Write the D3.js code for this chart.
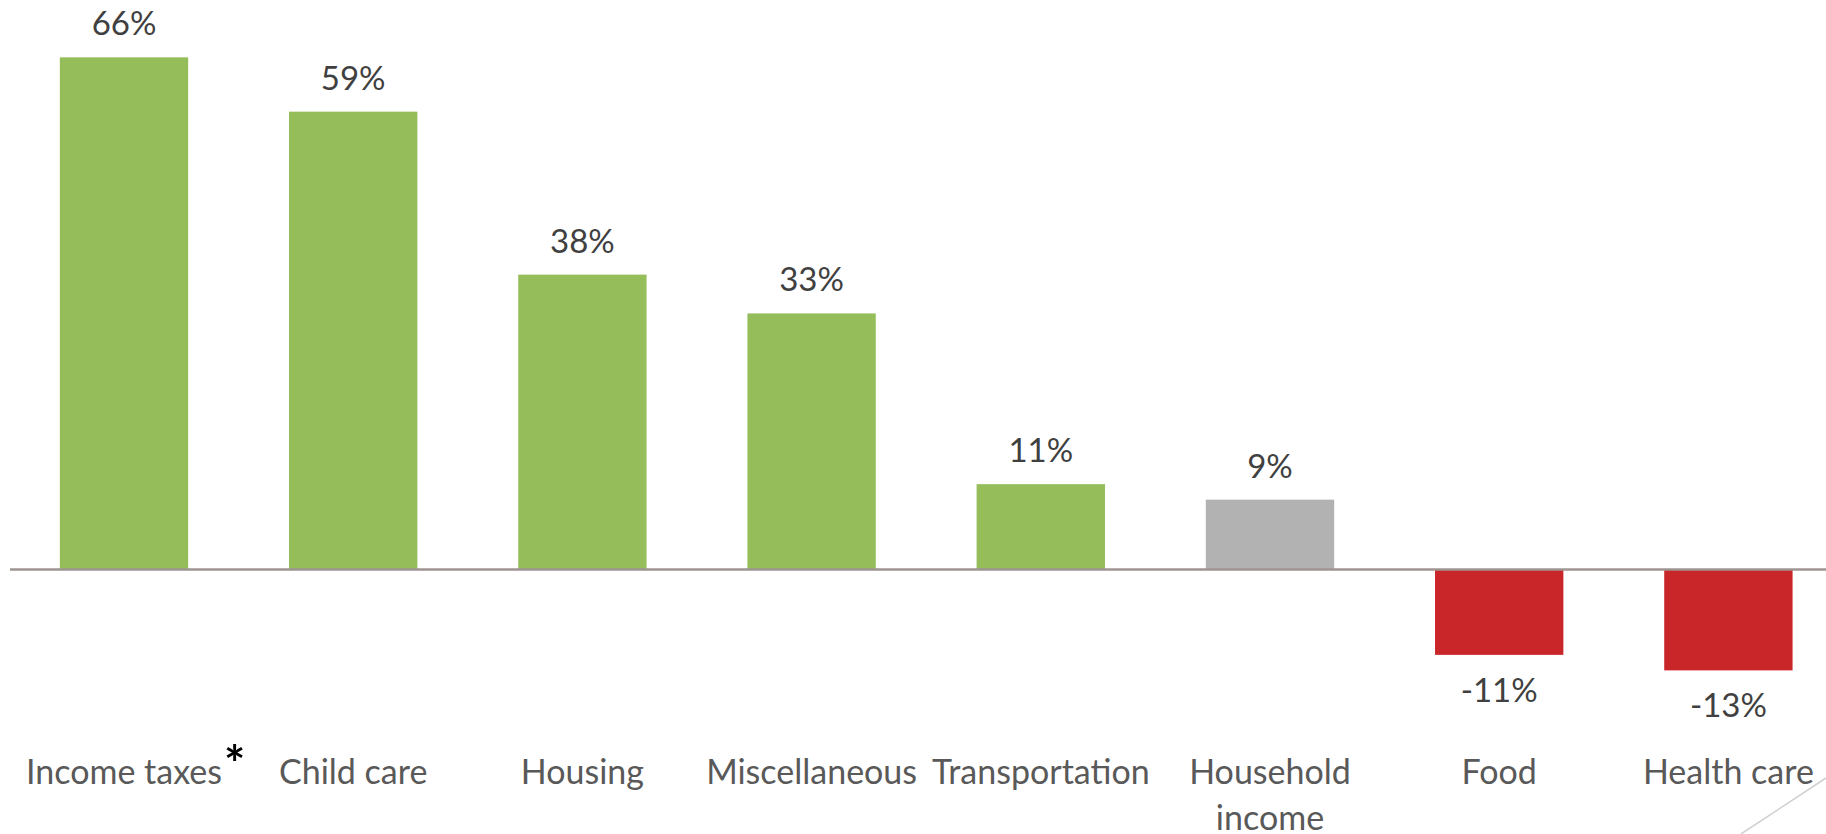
<!DOCTYPE html>
<html>
<head>
<meta charset="utf-8">
<script src="https://cdn.jsdelivr.net/npm/d3@7"></script>
<style>
  body { margin: 0; background: #fff; }
  svg { display: block; }
</style>
</head>
<body>
<svg></svg>
<script>
//svg size
const width = 1826;
const height = 834;

//data
var categories = ['Income taxes', 'Child care', 'Housing', 'Miscellaneous', 'Transportation', 'Household income', 'Food', 'Health care'];
var values = [66, 59, 38, 33, 11, 9, -11, -13];
var labelLines = [['Income taxes'], ['Child care'], ['Housing'], ['Miscellaneous'], ['Transportation'], ['Household', 'income'], ['Food'], ['Health care']];
var footnoteMark = '*'; //asterisk after first label

//colours
var up_col = '#95be5a';
var base_col = '#b2b2b2';
var down_col = '#c9262a';
var axis_col = '#9e9492';

var svg = d3.select('svg')
    .attr('width', width)
    .attr('height', height);

var fontFam = 'Lato, "Open Sans", sans-serif';

//scales
var x = d3.scaleBand()
    .domain(categories)
    .range([9.4, 9.4 + 8 * 229.2])
    .paddingInner(0.44)
    .paddingOuter(0.22);

var y = d3.scaleLinear()
    .domain([-15, 70])
    .range([569.5 + 15 * 7.76, 569.5 - 70 * 7.76]);

function barColour(cat, v) {
    if (cat === 'Household income') return base_col;
    return v >= 0 ? up_col : down_col;
}

//bars
svg.append('g').selectAll('rect')
    .data(categories)
    .join('rect')
    .attr('x', d => x(d))
    .attr('width', x.bandwidth())
    .attr('y', (d, i) => Math.min(y(values[i]), y(0)))
    .attr('height', (d, i) => Math.abs(y(values[i]) - y(0)))
    .attr('fill', (d, i) => barColour(d, values[i]));

//zero line
svg.append('line')
    .attr('x1', 10)
    .attr('x2', width)
    .attr('y1', y(0))
    .attr('y2', y(0))
    .style('stroke', axis_col)
    .style('stroke-width', 2.5);

//value labels
svg.append('g').selectAll('text')
    .data(categories)
    .join('text')
    .attr('x', d => x(d) + x.bandwidth() / 2)
    .attr('y', (d, i) => values[i] >= 0 ? y(values[i]) - 22 : y(values[i]) + 47)
    .attr('text-anchor', 'middle')
    .style('font-family', fontFam)
    .style('font-size', '33px')
    .style('fill', '#404040')
    .text((d, i) => values[i] + '%');

//category labels
var cats = svg.append('g').selectAll('text')
    .data(categories)
    .join('text')
    .attr('x', d => x(d) + x.bandwidth() / 2)
    .attr('y', 784)
    .attr('text-anchor', 'middle')
    .style('font-family', fontFam)
    .style('font-size', '34px')
    .style('fill', '#595959');

cats.each(function(d, i) {
    var t = d3.select(this);
    labelLines[i].forEach(function(line, j) {
        t.append('tspan')
            .attr('x', x(d) + x.bandwidth() / 2)
            .attr('dy', j === 0 ? 0 : 46)
            .text(line);
    });
});

//asterisk on first label
var firstLabel = cats.filter((d, i) => i === 0).node();
var firstLen = firstLabel.getComputedTextLength();
svg.append('text')
    .attr('x', x(categories[0]) + x.bandwidth() / 2 + firstLen / 2 + 2)
    .attr('y', 782)
    .style('font-family', fontFam)
    .style('font-size', '50px')
    .style('font-weight', 'bold')
    .style('fill', '#000')
    .text(footnoteMark);

//slide decoration in the corner
svg.append('line')
    .attr('x1', 1826)
    .attr('y1', 778)
    .attr('x2', 1741)
    .attr('y2', 834)
    .style('stroke', '#d0d0d0')
    .style('stroke-width', 1.5);
</script>
</body>
</html>
